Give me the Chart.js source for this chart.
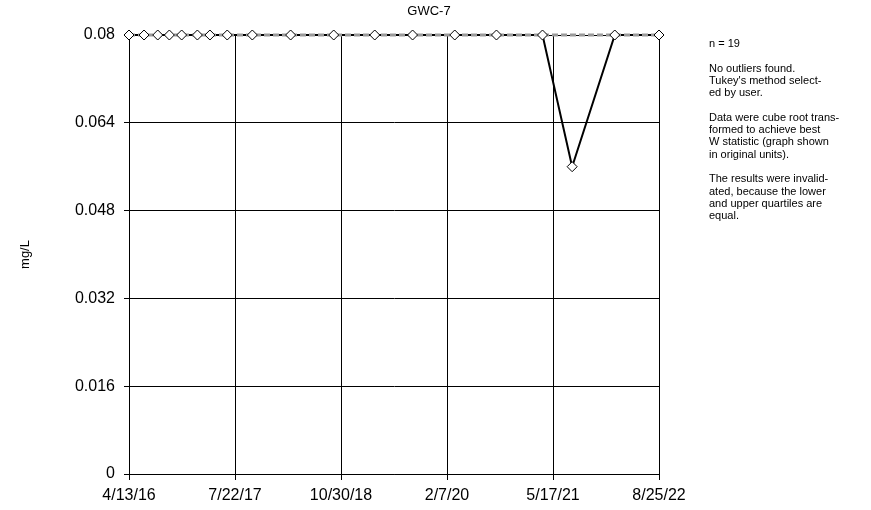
<!DOCTYPE html>
<html>
<head>
<meta charset="utf-8">
<script src="https://cdn.jsdelivr.net/npm/chart.js@4.4.1/dist/chart.umd.min.js"></script>
<style>
    body { margin: 0; background: #fff; }
    #wrap { position: relative; width: 871px; height: 510px; }
    #titulo {
        position: absolute; left: 0; top: 3px; width: 858px; text-align: center;
        font: 13px 'Liberation Sans', Arial, sans-serif; color: #000;
    }
    #notas {
        position: absolute; left: 709px; top: 37px; width: 160px;
        font: 11px 'Liberation Sans', Arial, sans-serif; line-height: 12.3px; color: #000;
    }
    #notas p { margin: 0 0 12.3px 0; }
</style>
</head>
<body>
<div id="wrap">
    <canvas id="graph1" width="871" height="510"></canvas>
    <div id="titulo">GWC-7</div>
    <div id="notas">
        <p>n = 19</p>
        <p>No outliers found.<br>Tukey's method select-<br>ed by user.</p>
        <p>Data were cube root trans-<br>formed to achieve best<br>W statistic (graph shown<br>in original units).</p>
        <p>The results were invalid-<br>ated, because the lower<br>and upper quartiles are<br>equal.</p>
    </div>
</div>
<script>
// Dados
var sampleDates = ['2016-04-13', '2016-06-18', '2016-08-17', '2016-10-07', '2016-11-30',
    '2017-02-07', '2017-04-03', '2017-06-18', '2017-10-06', '2018-03-23',
    '2018-09-28', '2019-03-27', '2019-09-09', '2020-03-12', '2020-09-11',
    '2021-04-01', '2021-08-09', '2022-02-12', '2022-08-25'];
var concentrations = [0.08, 0.08, 0.08, 0.08, 0.08, 0.08, 0.08, 0.08, 0.08, 0.08,
    0.08, 0.08, 0.08, 0.08, 0.08, 0.08, 0.056, 0.08, 0.08];
var limitDates = ['2016-04-13', '2022-08-25'];
var limitValues = [0.08, 0.08];
var xTickDates = ['2016-04-13', '2017-07-22', '2018-10-30', '2020-02-07', '2021-05-17', '2022-08-25'];
var xTickLabels = ['4/13/16', '7/22/17', '10/30/18', '2/7/20', '5/17/21', '8/25/22'];
var yTickValues = [0, 0.016, 0.032, 0.048, 0.064, 0.08];
var yTickLabels = ['0', '0.016', '0.032', '0.048', '0.064', '0.08'];

var origem = Date.parse(xTickDates[0]);
function toDays(s) {
    return (Date.parse(s) - origem) / 86400000;
}
function pares(datas, valores) {
    return datas.map(function (d, i) { return { x: toDays(d), y: valores[i] }; });
}

var fonte = "'Liberation Sans', Arial, sans-serif";
var xTicks = xTickDates.map(toDays);

var ctx = document.getElementById('graph1').getContext('2d');
var chart = new Chart(ctx, {
    type: 'line',
    data: {
        datasets: [
            {
                // marcadores
                data: pares(sampleDates, concentrations),
                showLine: false,
                pointStyle: 'rectRot',
                pointRadius: 5,
                pointBackgroundColor: '#fff',
                pointBorderColor: '#000',
                pointBorderWidth: 1,
                clip: false,
                order: 0
            },
            {
                // linha tracejada cinza
                data: pares(limitDates, limitValues),
                borderColor: '#9a9a9a',
                borderWidth: 3,
                borderDash: [6, 3],
                pointRadius: 0,
                clip: false,
                order: 1
            },
            {
                // linha dos dados
                data: pares(sampleDates, concentrations),
                borderColor: '#000',
                borderWidth: 2,
                pointRadius: 0,
                clip: false,
                order: 2
            }
        ]
    },
    options: {
        responsive: false,
        animation: false,
        layout: { padding: { left: 0, right: 212, top: 35, bottom: 0 } },
        plugins: {
            legend: { display: false },
            tooltip: { enabled: false },
            title: { display: false }
        },
        scales: {
            x: {
                type: 'linear',
                min: xTicks[0],
                max: xTicks[xTicks.length - 1],
                afterBuildTicks: function (scale) {
                    scale.ticks = xTicks.map(function (v) { return { value: v }; });
                },
                afterFit: function (scale) { scale.height = 36; },
                grid: { color: '#000', lineWidth: 1, tickLength: 6, drawTicks: true },
                border: { color: '#000', width: 1 },
                ticks: {
                    autoSkip: false,
                    maxRotation: 0,
                    padding: 6,
                    color: '#000',
                    font: { family: fonte, size: 16 },
                    callback: function (v, i) { return xTickLabels[i]; }
                }
            },
            y: {
                min: 0,
                max: 0.08,
                afterBuildTicks: function (scale) {
                    scale.ticks = yTickValues.map(function (v) { return { value: v }; });
                },
                afterFit: function (scale) { scale.width = 129; },
                grid: { color: '#000', lineWidth: 1, tickLength: 5, drawTicks: true },
                border: { color: '#000', width: 1 },
                ticks: {
                    padding: 9,
                    color: '#000',
                    font: { family: fonte, size: 16 },
                    callback: function (v, i) { return yTickLabels[i]; }
                },
                title: {
                    display: true,
                    text: 'mg/L',
                    color: '#000',
                    font: { family: fonte, size: 13 },
                    padding: { top: 18, bottom: 0 }
                }
            }
        }
    }
});
</script>
</body>
</html>
